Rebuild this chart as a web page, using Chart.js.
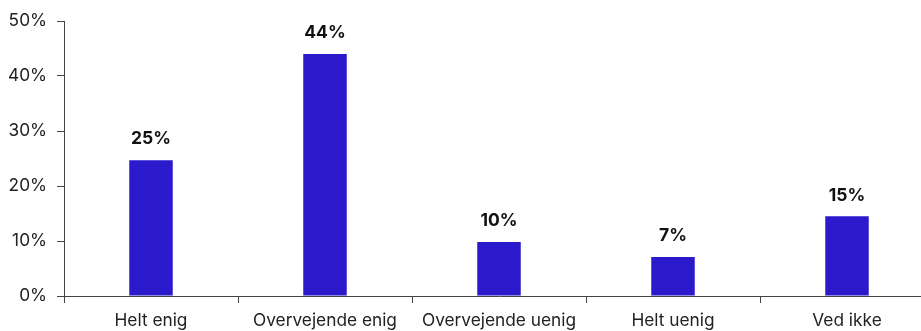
<!DOCTYPE html>
<html>
<head>
<meta charset="utf-8">
<script src="https://cdn.jsdelivr.net/npm/chart.js@4/dist/chart.umd.min.js"></script>
<style>
  html, body { margin: 0; padding: 0; background: #fff; overflow: hidden; }
  .wrap { width: 934px; height: 331px; position: relative; }
</style>
</head>
<body>
<div class="wrap"><canvas id="chart"></canvas></div>
<script>
const categories = ['Helt enig', 'Overvejende enig', 'Overvejende uenig', 'Helt uenig', 'Ved ikke'];
const shares     = [24.7, 44, 9.8, 7.1, 14.5];
const yTicks     = [0, 10, 20, 30, 40, 50];

const FONT = 'Inter, "Liberation Sans", sans-serif';
const AXIS = '#444';

// draw the bold % label above each bar
const valueLabels = {
  id: 'valueLabels',
  afterDatasetsDraw(chart) {
    const ctx  = chart.ctx;
    const meta = chart.getDatasetMeta(0);
    ctx.save();
    ctx.font = `bold 17.5px ${FONT}`;
    ctx.fillStyle = '#111';
    ctx.textAlign = 'center';
    ctx.textBaseline = 'middle';
    meta.data.forEach((bar, i) => {
      ctx.fillText(Math.round(shares[i]) + '%', bar.x, bar.y - 21);
    });
    ctx.restore();
  },
};

new Chart(document.getElementById('chart'), {
  type: 'bar',
  data: {
    labels: categories,
    datasets: [{
      data:               shares,
      backgroundColor:    '#2b19cc',
      barPercentage:      0.25,
      categoryPercentage: 1,
    }],
  },
  options: {
    responsive:          true,
    maintainAspectRatio: false,
    animation:           false,
    layout: { padding: { top: 21, left: 0, right: 0, bottom: 0 } },
    plugins: {
      legend:  { display: false },
      tooltip: { enabled: false },
    },
    scales: {
      x: {
        grid:   { drawOnChartArea: false, color: AXIS, tickLength: 7, offset: true },
        border: { color: AXIS, width: 1 },
        ticks:  { color: '#222', font: { family: FONT, size: 17.3 }, padding: 7 },
        afterFit: s => { s.height = 35; },
      },
      y: {
        min: 0,
        max: 50,
        afterBuildTicks: s => { s.ticks = yTicks.map(v => ({ value: v })); },
        grid:   { drawOnChartArea: false, color: AXIS, tickLength: 7 },
        border: { color: AXIS, width: 1 },
        ticks:  { color: '#222', font: { family: FONT, size: 17.3 }, padding: 10, callback: v => v + '%' },
        afterFit: s => { s.width = 64; },
      },
    },
  },
  plugins: [valueLabels],
});
</script>
</body>
</html>
